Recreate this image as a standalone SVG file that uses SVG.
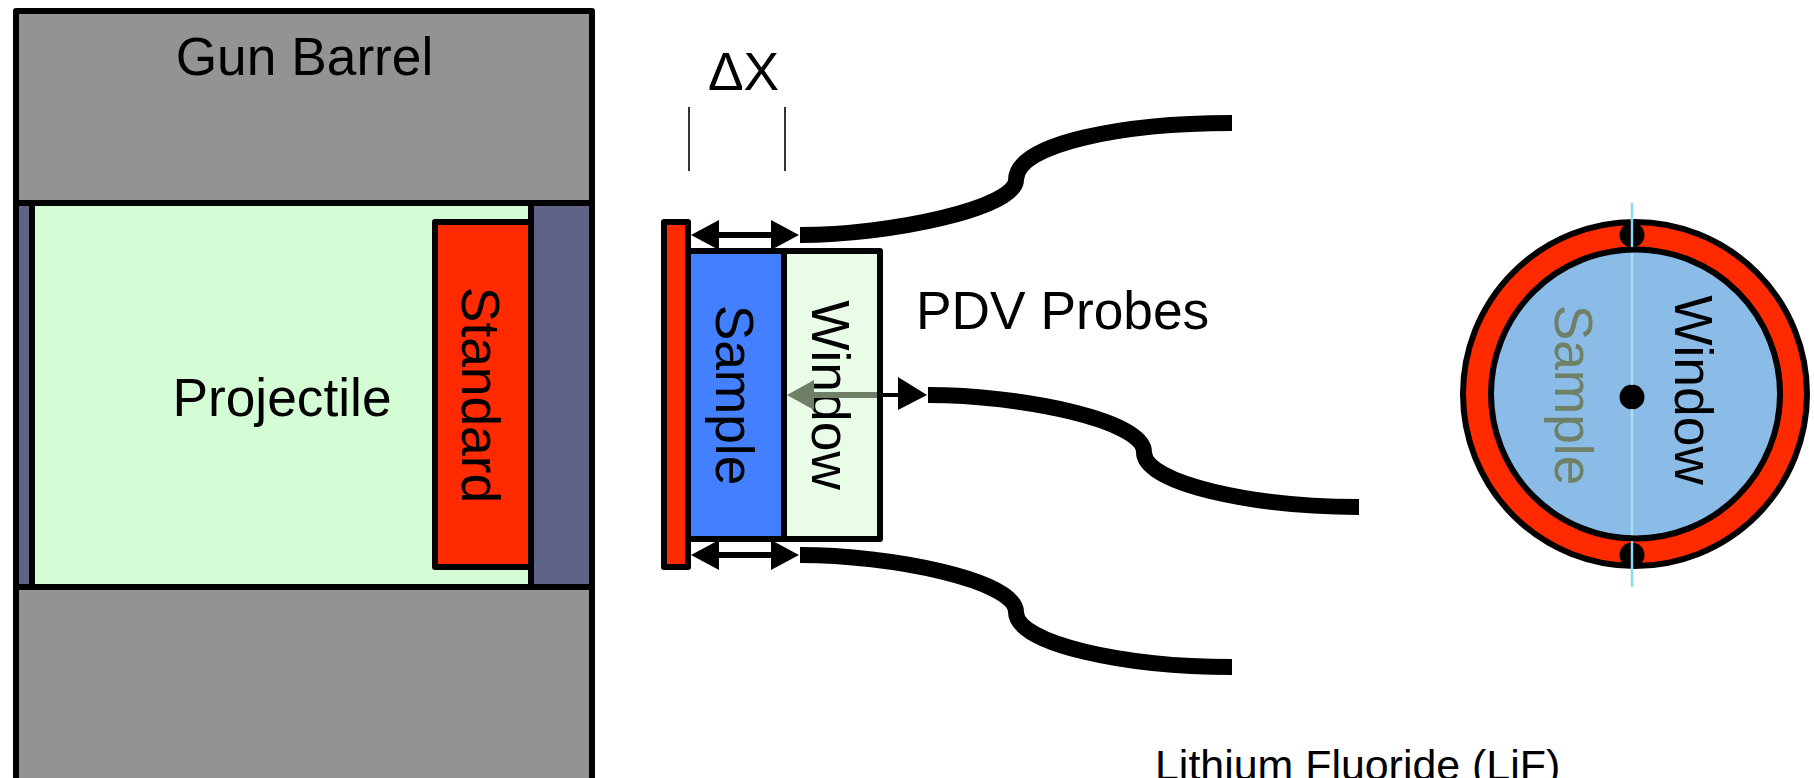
<svg xmlns="http://www.w3.org/2000/svg" width="1814" height="778" viewBox="0 0 1814 778">
<style>
.b{stroke:#000;stroke-width:6;stroke-linejoin:round}
.t{font-family:"Liberation Sans",Arial,sans-serif;font-size:53.3px;fill:#000}
.c{fill:none;stroke:#000;stroke-width:16}
</style>
<rect width="1814" height="778" fill="#fff"/>
<g id="gun-barrel">
<rect class="b" x="16" y="11" width="576" height="192" fill="#939393"/>
<rect class="b" x="16" y="587" width="576" height="200" fill="#939393"/>
<rect class="b" x="16" y="203" width="16" height="384" fill="#5f6387"/>
<rect class="b" x="531" y="203" width="61" height="384" fill="#5f6387"/>
<text class="t" x="304.5" y="75" text-anchor="middle">Gun Barrel</text>
</g>
<g id="projectile">
<rect class="b" x="32" y="203" width="499" height="384" fill="#d5fdd5"/>
<text class="t" x="282" y="416" text-anchor="middle">Projectile</text>
</g>
<g id="standard">
<rect class="b" x="435" y="222" width="96" height="345" fill="#ff2a00"/>
<text class="t" transform="translate(461.5,395) rotate(90)" text-anchor="middle">Standard</text>
</g>
<g id="target-standard"><rect class="b" x="664" y="222" width="24" height="345" fill="#ff2a00"/></g>
<g id="sample">
<rect class="b" x="688" y="251" width="96" height="288" fill="#4280ff"/>
<text class="t" transform="translate(715.5,395) rotate(90)" text-anchor="middle">Sample</text>
</g>
<g id="window">
<rect class="b" x="784" y="251" width="96" height="288" fill="#e8fce8"/>
<text class="t" transform="translate(811.5,395) rotate(90)" text-anchor="middle">Window</text>
</g>
<g id="connectors">
<path fill="#000" d="M691 235l28-15v12h52v-12l28 15l-28 15v-12h-52v12z"/>
<path fill="#000" d="M691 555l28-15v12h52v-12l28 15l-28 15v-12h-52v12z"/>
<path fill="#000" d="M877 393h21v-16l29 18l-29 15v-13h-21z"/>
<path fill="#6f8067" d="M787 395l27-15v12h63v6h-63v12z"/>
<path class="c" d="M800 235C890 235 1016 208 1016 180C1016 143 1125 123 1232 123"/>
<path class="c" d="M928 395C1020 395 1144 420 1144 452C1144 484 1255 507 1359 507"/>
<path class="c" d="M800 555C890 555 1016 580 1016 612C1016 644 1125 667 1232 667"/>
<path d="M689 107V171M785 107V171" stroke="#333" stroke-width="2" fill="none"/>
</g>
<g id="cross-section">
<circle cx="1635" cy="394" r="172" fill="#ff2a00" stroke="#000" stroke-width="6"/>
<circle cx="1635.5" cy="394" r="144.5" fill="#8bbce8" stroke="#000" stroke-width="6"/>
<circle cx="1632" cy="235" r="12.5"/>
<circle cx="1632" cy="397" r="12.5"/>
<circle cx="1632" cy="555" r="12.5"/>
<path d="M1632 203V247M1632 541V587" stroke="#8ad8f5" stroke-width="2.5"/>
<path d="M1632 253V385M1632 409V535" stroke="#a5e0ee" stroke-width="2.5"/>
<text class="t" transform="translate(1674.5,390) rotate(90)" text-anchor="middle">Window</text>
<text class="t" transform="translate(1554.5,395) rotate(90)" text-anchor="middle" style="fill:#6f8067">Sample</text>
</g>
<text class="t" x="916" y="329">PDV Probes</text>
<text class="t" x="708" y="90">ΔX</text>
<text class="t" x="1155" y="780" style="font-size:42.9px">Lithium Fluoride (LiF)</text>
</svg>
